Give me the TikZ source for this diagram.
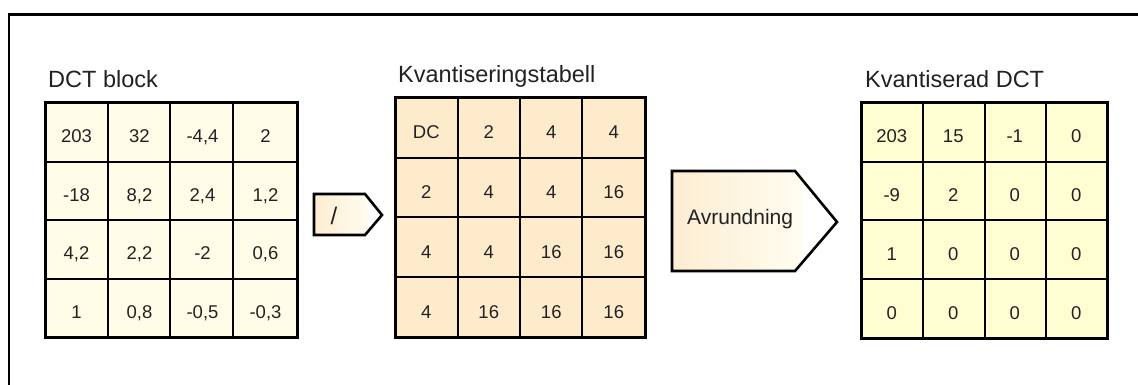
\documentclass[tikz,border=0pt]{standalone}
\usepackage{fontspec}
\setmainfont{Liberation Sans}
\definecolor{dctfill}{HTML}{FFFDE8}
\definecolor{qfill}{HTML}{FDEBCB}
\definecolor{kfill}{HTML}{FFFDD2}
\definecolor{boxleft}{HTML}{FCEDD2}
\definecolor{boxright}{HTML}{FFFDF0}
\definecolor{txt}{HTML}{222222}
\tikzset{
  frameline/.style={line width=2.6pt,black},
  gridin/.style={line width=1.8pt,black},
  gridmid/.style={line width=2.6pt,black},
  gridout/.style={line width=3pt,black,line join=miter},
  celltxt/.style={anchor=base,inner sep=0pt,text=txt,font=\fontsize{18.5}{20}\selectfont},
  titletxt/.style={anchor=base west,inner sep=0pt,text=txt,font=\fontsize{23.5}{26}\selectfont},
  boxline/.style={line width=2.6pt,black,line join=miter},
}
\begin{document}
\begin{tikzpicture}[x=1pt,y=-1pt]
\useasboundingbox (0,0) rectangle (1138,385);
\fill[white] (0,0) rectangle (1138,385);
% frame (top and left edges)
\draw[frameline] (9,390) -- (9,14.5) -- (1145,14.5);

% DCT block
\fill[dctfill] (45,103) rectangle (297,337);
\foreach \x in {108,233} \draw[gridin] (\x,103) -- (\x,337);
\foreach \y in {162,279} \draw[gridin] (45,\y) -- (297,\y);
\draw[gridmid] (170,103) -- (170,337);
\draw[gridmid] (45,220) -- (297,220);
\draw[gridout] (45,103) rectangle (297,337);
\foreach \v [count=\i from 0] in {203,32,{-4,4},2,-18,{8,2},{2,4},{1,2},{4,2},{2,2},-2,{0,6},1,{0,8},{-0,5},{-0,3}}{
  \pgfmathtruncatemacro{\r}{int(\i/4)}
  \pgfmathtruncatemacro{\c}{mod(\i,4)}
  \pgfmathsetmacro{\cx}{45+(\c+0.5)*63}
  \pgfmathsetmacro{\cy}{103+(\r+0.5)*58.5+10.5}
  \node[celltxt] (d\r\c) at (\cx,\cy) {\v};
}
\node[titletxt] (tdct) at (48,88) {DCT block};

% Quantisation table
\fill[qfill] (395,98) rectangle (645,337);
\foreach \x in {458,582} \draw[gridin] (\x,98) -- (\x,337);
\foreach \y in {158,277} \draw[gridin] (395,\y) -- (645,\y);
\draw[gridmid] (520,98) -- (520,337);
\draw[gridmid] (395,217) -- (645,217);
\draw[gridout] (395,98) rectangle (645,337);
\foreach \v [count=\i from 0] in {DC,2,4,4,2,4,4,16,4,4,16,16,4,16,16,16}{
  \pgfmathtruncatemacro{\r}{int(\i/4)}
  \pgfmathtruncatemacro{\c}{mod(\i,4)}
  \pgfmathsetmacro{\cx}{395+(\c+0.5)*62.5}
  \pgfmathsetmacro{\cy}{98+(\r+0.5)*59.75+11}
  \node[celltxt] (q\r\c) at (\cx,\cy) {\v};
}
\node[titletxt] (tq) at (398,83) {Kvantiseringstabell};

% Quantised DCT
\fill[kfill] (861,103) rectangle (1107,338);
\foreach \x in {923,1046} \draw[gridin] (\x,103) -- (\x,338);
\foreach \y in {162,279} \draw[gridin] (861,\y) -- (1107,\y);
\draw[gridmid] (985,103) -- (985,338);
\draw[gridmid] (861,220) -- (1107,220);
\draw[gridout] (861,103) rectangle (1107,338);
\foreach \v [count=\i from 0] in {203,15,-1,0,-9,2,0,0,1,0,0,0,0,0,0,0}{
  \pgfmathtruncatemacro{\r}{int(\i/4)}
  \pgfmathtruncatemacro{\c}{mod(\i,4)}
  \pgfmathsetmacro{\cx}{861+(\c+0.5)*61.5}
  \pgfmathsetmacro{\cy}{103+(\r+0.5)*58.75+10.5}
  \node[celltxt] (k\r\c) at (\cx,\cy) {\v};
}
\node[titletxt] (tk) at (865,88) {Kvantiserad DCT};

% Division box
\begin{scope}
  \clip (314,194) -- (365,194) -- (382,215) -- (365,235) -- (314,235) -- cycle;
  \shade[left color=boxleft,right color=boxright] (314,194) rectangle (368,235);
\end{scope}
\draw[boxline] (314,194) -- (365,194) -- (382,215) -- (365,235) -- (314,235) -- cycle;
\node[inner sep=0pt,text=txt,font=\fontsize{24}{26}\selectfont] (slash) at (334,215.5) {/};

% Rounding box
\begin{scope}
  \clip (672,171) -- (795,171) -- (837,222) -- (795,271) -- (672,271) -- cycle;
  \shade[left color=boxleft,right color=boxright] (672,171) rectangle (802,271);
\end{scope}
\draw[boxline] (672,171) -- (795,171) -- (837,222) -- (795,271) -- (672,271) -- cycle;
\node[anchor=base west,inner sep=0pt,text=txt,font=\fontsize{21}{23}\selectfont] (avr) at (687,224) {Avrundning};
\end{tikzpicture}
\end{document}
